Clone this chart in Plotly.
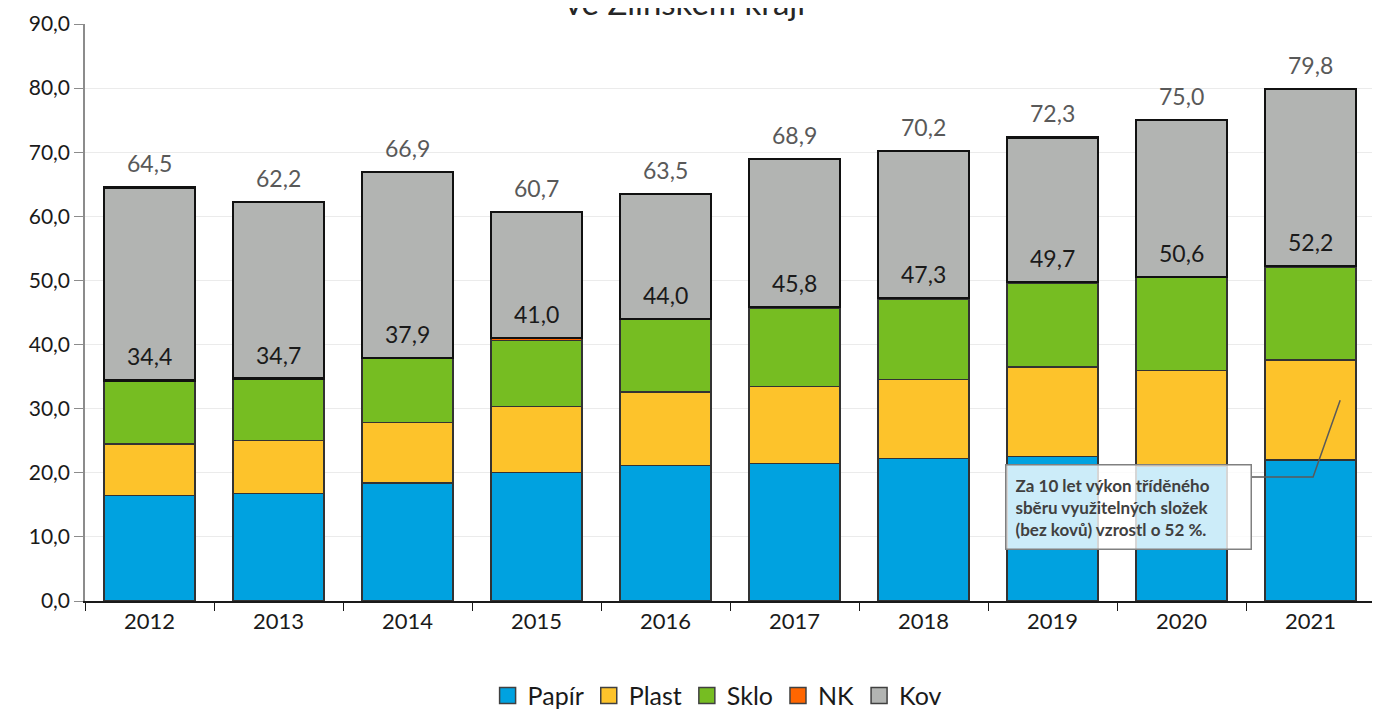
import plotly.graph_objects as go

years = ["2012", "2013", "2014", "2015", "2016", "2017", "2018", "2019", "2020", "2021"]
papir = [16.4, 16.8, 18.4, 20.1, 21.1, 21.4, 22.2, 22.6, 21.0, 22.0]
plast = [8.1, 8.2, 9.4, 10.2, 11.5, 12.0, 12.4, 13.9, 14.9, 15.6]
sklo = [9.8, 9.6, 10.0, 10.3, 11.3, 12.2, 12.5, 13.0, 14.5, 14.4]
nk = [0.1, 0.1, 0.1, 0.4, 0.1, 0.2, 0.2, 0.2, 0.2, 0.2]
kov = [30.1, 27.5, 29.0, 19.7, 19.5, 23.1, 22.9, 22.6, 24.4, 27.6]

FONT = "Lato"
series = [
    ("Papír", papir, "#00a2e0", "#333333", 1.2),
    ("Plast", plast, "#fdc32b", "#333333", 1.2),
    ("Sklo", sklo, "#76bd22", "#333333", 1.2),
    ("NK", nk, "#ff6600", "#333333", 1.2),
    ("Kov", kov, "#b2b4b2", "#111111", 2.2),
]

fig = go.Figure()
for name, vals, col, lcol, lw in series:
    fig.add_trace(go.Bar(
        x=years, y=vals, name=name, width=0.705, showlegend=False,
        marker=dict(color=col, line=dict(color=lcol, width=lw)),
        hoverinfo="skip",
    ))
# legend entries with bigger squares
for name, vals, col, lcol, lw in series:
    fig.add_trace(go.Scatter(
        x=[None], y=[None], mode="markers", name=name,
        marker=dict(symbol="square", size=18, color=col, line=dict(color="#404040", width=1.5)),
    ))

subtotal = [round(a + b + c + d, 1) for a, b, c, d in zip(papir, plast, sklo, nk)]
total = [round(s + k, 1) for s, k in zip(subtotal, kov)]

annots = []
for i, (s, t) in enumerate(zip(subtotal, total)):
    annots.append(dict(x=i, y=s, text=f"{s:.1f}".replace(".", ","), showarrow=False,
                       yanchor="bottom", yshift=8,
                       font=dict(family=FONT, size=23, color="#1a1a1a")))
    annots.append(dict(x=i, y=t, text=f"{t:.1f}".replace(".", ","), showarrow=False,
                       yanchor="bottom", yshift=8,
                       font=dict(family=FONT, size=23, color="#595959")))

# title (partly outside the visible page)
annots.append(dict(xref="paper", yref="paper", x=0.465, y=1, yanchor="bottom", yshift=0,
                   text="ve Zlínském kraji", showarrow=False,
                   font=dict(family=FONT, size=33, color="#262626")))

# comment box
annots.append(dict(xref="paper", yref="paper", x=0.809, y=0.163,
                   xanchor="center", yanchor="middle", align="left",
                   text="<b>Za 10 let výkon tříděného<br>sběru využitelných složek<br>(bez kovů) vzrostl o 52 %.</b>",
                   showarrow=False, bgcolor="rgba(255,255,255,0.8)",
                   bordercolor="#808080", borderwidth=1.5, borderpad=9,
                   width=226,
                   font=dict(family=FONT, size=17, color="#404040")))

# page body has an 8px margin, so the figure is sized to fit the window
fig.update_layout(
    width=1372, height=706,
    barmode="stack",
    separators=", ",
    plot_bgcolor="white", paper_bgcolor="white",
    margin=dict(l=77, r=5, t=16, b=113, autoexpand=False),
    font=dict(family=FONT, color="#1a1a1a"),
    annotations=annots,
    shapes=[dict(type="path", xref="paper", yref="paper",
                 path="M 0.904,0.215 L 0.952,0.215 L 0.973,0.348",
                 line=dict(color="#595959", width=1.5))],
    legend=dict(orientation="h", x=0.49, xanchor="center", y=-0.164, yanchor="middle",
                font=dict(family=FONT, size=25, color="#1a1a1a"),
                traceorder="normal", itemwidth=30, tracegroupgap=0),
    xaxis=dict(type="category", range=[-0.5, 9.5], showline=True, linecolor="#1a1a1a",
               linewidth=1.5, ticks="outside", tickson="boundaries", ticklen=8,
               tickcolor="#1a1a1a", tickfont=dict(family=FONT, size=22, color="#1a1a1a"),
               showgrid=False),
    yaxis=dict(range=[0, 90], dtick=10, tickformat=".1f", showline=True,
               linecolor="#8c8c8c", linewidth=1.5, ticks="outside", ticklen=9,
               tickcolor="#8c8c8c", gridcolor="#ebebeb", gridwidth=1,
               tickfont=dict(family=FONT, size=21, color="#1a1a1a"), zeroline=False),
)

fig.write_html("out.html")
